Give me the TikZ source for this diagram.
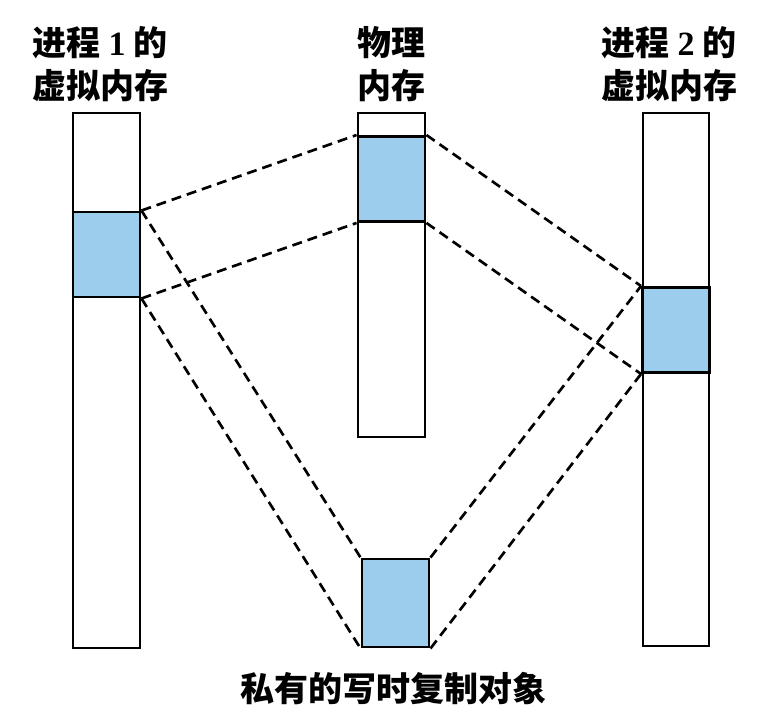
\documentclass[tikz,border=0pt]{standalone}
\usepackage{fontspec}
\newfontfamily\cjk{Noto Sans CJK SC}
\newfontfamily\numfont{Liberation Serif}
\usetikzlibrary{positioning,calc}

\definecolor{memblue}{RGB}{156,205,236}
\tikzset{
  memcol/.style={draw, line width=2.2pt, fill=white},
  memblk/.style={draw, line width=2.2pt, fill=memblue, inner sep=0pt,
    minimum width=50.25pt, minimum height=63.75pt},
  maplink/.style={dashed, line width=2pt, dash pattern=on 7.5pt off 4.5pt},
  lbl/.style={font=\cjk\bfseries\fontsize{25.5}{32}\selectfont, align=center, inner sep=0pt}
}

\begin{document}
\begin{tikzpicture}[x=0.75pt,y=0.75pt,yscale=-1,xscale=1]
\useasboundingbox (0,0) rectangle (773,723);

% columns
\draw[memcol] (73,113) rectangle (140,648);
\draw[memcol] (358,113) rectangle (425,437);
\draw[memcol] (643,113) rectangle (709,646);

% shaded blocks
\node[memblk] (v1) at (106.5,254.5) {};
\node[memblk] (pm) at (391.5,179) {};
\node[memblk] (v2) at (676,330) {};
\node[memblk, minimum height=66pt] (cow) at (395.5,603) {};

% Text Node
\node[lbl] (t1) at (100,64) {进程 {\numfont\bfseries 1} 的\\虚拟内存};
% Text Node
\node[lbl] (t2) at (391,64) {物理\\内存};
% Text Node
\node[lbl] (t3) at (669,64) {进程 {\numfont\bfseries 2} 的\\虚拟内存};
% Text Node
\node[lbl] (tobj) at (393,689) {私有的写时复制对象};

% mappings
\draw[maplink] (v1.north east) -- (pm.north west);
\draw[maplink] (v1.south east) -- (pm.south west);
\draw[maplink] (v1.north east) -- (cow.north west);
\draw[maplink] (v1.south east) -- (cow.south west);
\draw[maplink] (pm.north east) -- (v2.north west);
\draw[maplink] (pm.south east) -- (v2.south west);
\draw[maplink] (cow.north east) -- (v2.north west);
\draw[maplink] (cow.south east) -- (v2.south west);

\end{tikzpicture}
\end{document}
